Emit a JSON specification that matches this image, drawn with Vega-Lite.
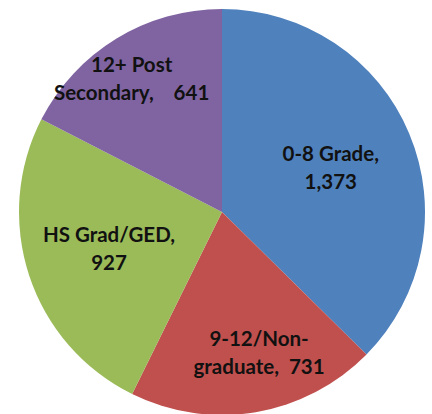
{
  "$schema": "https://vega.github.io/schema/vega-lite/v6.json",
  "width": 432,
  "height": 414,
  "autosize": {"type": "fit", "contains": "padding"},
  "padding": {"left": 12, "top": 10, "right": 0, "bottom": 0},
  "background": "white",
  "view": {"stroke": null},
  "data": {
    "values": [
      {"category": "0-8 Grade", "value": 1373, "order": 1, "label": "0-8 Grade,\n1,373"},
      {"category": "9-12/Non-graduate", "value": 731, "order": 2, "label": "9-12/Non-\ngraduate,\u00a0\u00a0731"},
      {"category": "HS Grad/GED", "value": 927, "order": 3, "label": "HS Grad/GED,\n927"},
      {"category": "12+ Post Secondary", "value": 641, "order": 4, "label": "12+ Post\nSecondary,\u00a0\u00a0\u00a0\u00a0641"}
    ]
  },
  "encoding": {
    "theta": {"field": "value", "type": "quantitative", "stack": true},
    "order": {"field": "order", "type": "quantitative"},
    "color": {
      "field": "category",
      "type": "nominal",
      "legend": null,
      "scale": {
        "domain": ["0-8 Grade", "9-12/Non-graduate", "HS Grad/GED", "12+ Post Secondary"],
        "range": ["#4F81BD", "#C0504D", "#9BBB59", "#8064A2"]
      }
    }
  },
  "layer": [
    {"mark": {"type": "arc", "outerRadius": 203}},
    {
      "mark": {"type": "text", "radius": 119, "dx": -1, "dy": -11, "font": "Lato", "fontSize": 20.5, "fontWeight": "bold", "lineBreak": "\n", "lineHeight": 28, "align": "center", "baseline": "middle"},
      "encoding": {
        "color": {"value": "#111111"},
        "text": {"condition": {"test": "datum.category == '0-8 Grade'", "field": "label"}, "value": ""}
      }
    },
    {
      "mark": {"type": "text", "radius": 119, "dx": 0, "dy": -13, "font": "Lato", "fontSize": 20.5, "fontWeight": "bold", "lineBreak": "\n", "lineHeight": 28, "align": "center", "baseline": "middle"},
      "encoding": {
        "color": {"value": "#111111"},
        "text": {"condition": {"test": "datum.category == 'HS Grad/GED'", "field": "label"}, "value": ""}
      }
    },
    {
      "mark": {"type": "text", "radius": 145, "dx": 13, "dy": -15, "font": "Lato", "fontSize": 20.5, "fontWeight": "bold", "lineBreak": "\n", "lineHeight": 28, "align": "center", "baseline": "middle"},
      "encoding": {
        "color": {"value": "#111111"},
        "text": {"condition": {"test": "datum.category == '9-12/Non-graduate'", "field": "label"}, "value": ""}
      }
    },
    {
      "mark": {"type": "text", "radius": 158, "dx": -8, "dy": -11, "font": "Lato", "fontSize": 20.5, "fontWeight": "bold", "lineBreak": "\n", "lineHeight": 28, "align": "center", "baseline": "middle"},
      "encoding": {
        "color": {"value": "#111111"},
        "text": {"condition": {"test": "datum.category == '12+ Post Secondary'", "field": "label"}, "value": ""}
      }
    }
  ]
}
